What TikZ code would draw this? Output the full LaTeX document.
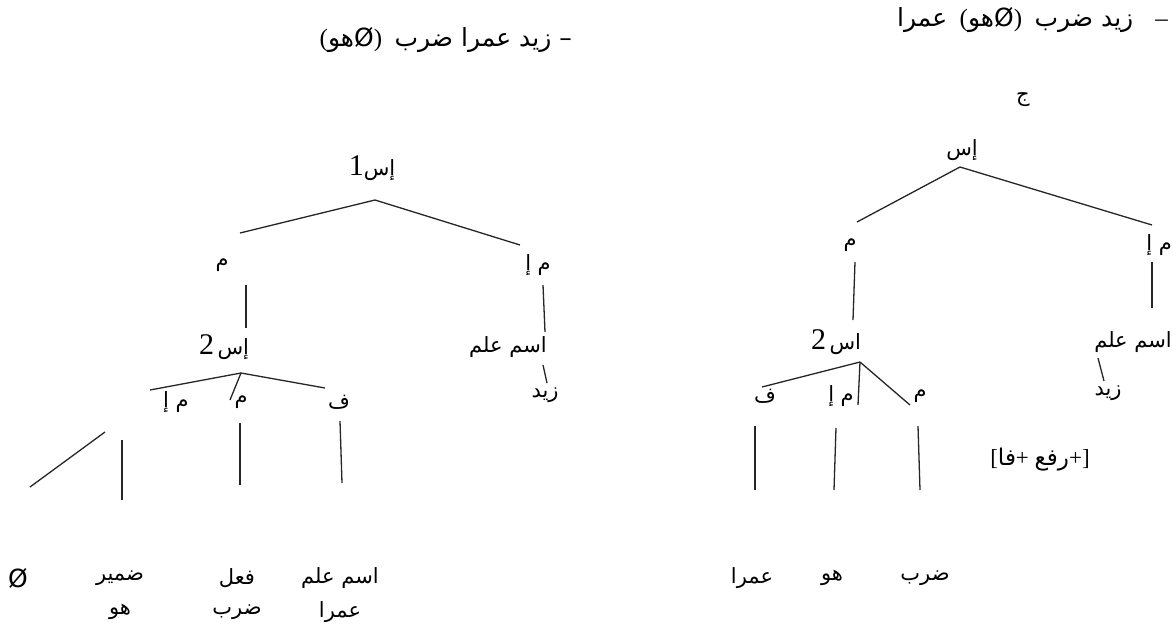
\documentclass[tikz,border=0pt]{standalone}
\usepackage{fontspec}
\setmainfont{Liberation Serif}
\newfontfamily\arf[Script=Arabic]{DejaVu Sans}
\newfontfamily\symf{DejaVu Sans}
\TeXXeTstate=1
\usetikzlibrary{calc}
\newcommand\AR[1]{{\arf\beginR #1\endR}}
\newcommand\ARw[1]{{\arf #1}}
\newcommand\dg[1]{{\fontsize{30}{30}\selectfont #1}}
\newcommand\nul{{\symf Ø}}
\tikzset{
  lbl/.style={inner sep=0pt, font=\fontsize{21}{23}\selectfont},
  hdr/.style={inner sep=0pt, font=\fontsize{25}{27}\selectfont},
  edge/.style={line width=1.3pt, black!85}
}
\begin{document}
\begin{tikzpicture}[x=1pt,y=-1pt]
\useasboundingbox (0,0) rectangle (1173,635);
\fill[white] (0,0) rectangle (1173,635);

% headers
\node[hdr,anchor=east] (HR) at (1168,20) {\ARw{عمرا}\ \ (\ARw{هو}\nul)\ \ \AR{زيد\ ضرب}\hspace{22pt}–};
\node[hdr,anchor=east] (HL) at (572,40) {(\ARw{هو}\nul)\ \ \AR{–\ زيد\ عمرا\ ضرب}};

% ---------------- right tree ----------------
\node[lbl] (J) at (1023,100) {\ARw{ج}};
\node[lbl] (RS) at (962,150) {\ARw{إس}};
\node[lbl] (RM) at (850,245) {\ARw{م}};
\node[lbl,anchor=east] (RMI) at (1172,245) {\AR{م إ}};
\node[lbl] (RS2) at (836,342) {\dg{2}\,\ARw{اس}};
\node[lbl,anchor=east] (RPN) at (1172,342) {\AR{اسم علم}};
\node[lbl] (RZ) at (1108,393) {\ARw{زيد}};
\node[lbl] (RF) at (765,396) {\ARw{ف}};
\node[lbl] (RMI2) at (841,396) {\AR{م إ}};
\node[lbl] (RM2) at (920,396) {\ARw{م}};
\node[lbl,font=\fontsize{23}{25}\selectfont] (RFT) at (1040,460) {[\ARw{فا}+\ \ARw{رفع}+]};
\node[lbl] (RW1) at (752,578) {\ARw{عمرا}};
\node[lbl] (RW2) at (832,578) {\ARw{هو}};
\node[lbl] (RW3) at (925,578) {\ARw{ضرب}};

\draw[edge] ($(RS)+(-2,17)$) -- ($(RM)+(7,-23)$);
\draw[edge] ($(RS)+(-2,17)$) -- ($(RMI.east)+(-20,-20)$);
\draw[edge] ($(RM)+(5,17)$) -- ($(RS2)+(17,-22)$);
\draw[edge] ($(RMI.east)+(-20,17)$) -- ($(RPN.east)+(-20,-34)$);
\draw[edge] ($(RZ)+(-10,-35)$) -- ($(RZ)+(-4,-12)$);
\draw[edge] ($(RS2)+(24,20)$) -- ($(RF)+(-3,-9)$);
\draw[edge] ($(RS2)+(24,20)$) -- ($(RMI2)+(17,9)$);
\draw[edge] ($(RS2)+(24,20)$) -- ($(RM2)+(-10,9)$);
\draw[edge] ($(RF)+(-10,30)$) -- ($(RW1)+(3,-88)$);
\draw[edge] ($(RMI2)+(-5,32)$) -- ($(RW2)+(2,-88)$);
\draw[edge] ($(RM2)+(-2,30)$) -- ($(RW3)+(-5,-88)$);

% ---------------- left tree ----------------
\node[lbl] (LS1) at (372,168) {\dg{1}\ARw{إس}};
\node[lbl] (LM) at (222,265) {\ARw{م}};
\node[lbl] (LMI) at (538,265) {\AR{م إ}};
\node[lbl] (LS2) at (224,347) {\dg{2}\,\ARw{إس}};
\node[lbl] (LPN) at (508,347) {\AR{اسم علم}};
\node[lbl] (LZ) at (545,395) {\ARw{زيد}};
\node[lbl] (LMI2) at (176,402) {\AR{م إ}};
\node[lbl] (LM2) at (241,402) {\ARw{م}};
\node[lbl] (LF) at (339,402) {\ARw{ف}};
\node[lbl,font=\fontsize{25}{27}\selectfont] (LO) at (18,578) {\nul};
\node[lbl] (LW1) at (120,578) {\ARw{ضمير}};
\node[lbl] (LW2) at (237,578) {\ARw{فعل}};
\node[lbl] (LW3) at (340,578) {\AR{اسم علم}};
\node[lbl] (LX1) at (120,612) {\ARw{هو}};
\node[lbl] (LX2) at (237,612) {\ARw{ضرب}};
\node[lbl] (LX3) at (340,612) {\ARw{عمرا}};

\draw[edge] ($(LS1)+(3,32)$) -- ($(LM)+(18,-32)$);
\draw[edge] ($(LS1)+(3,32)$) -- ($(LMI)+(-18,-20)$);
\draw[edge] ($(LM)+(24,20)$) -- ($(LS2)+(22,-19)$);
\draw[edge] ($(LMI)+(5,20)$) -- ($(LPN)+(37,-15)$);
\draw[edge] ($(LZ)+(-2,-30)$) -- ($(LZ)+(2,-12)$);
\draw[edge] ($(LS2)+(17,26)$) -- ($(LMI2)+(-26,-12)$);
\draw[edge] ($(LS2)+(17,26)$) -- ($(LM2)+(-11,-2)$);
\draw[edge] ($(LS2)+(17,26)$) -- ($(LF)+(-14,-14)$);
\draw[edge] ($(LW1)+(-15,-146)$) -- ($(LO)+(12,-91)$);
\draw[edge] ($(LW1)+(2,-138)$) -- ($(LW1)+(2,-78)$);
\draw[edge] ($(LM2)+(-1,21)$) -- ($(LW2)+(3,-93)$);
\draw[edge] ($(LF)+(1,19)$) -- ($(LW3)+(2,-95)$);
\end{tikzpicture}
\end{document}
